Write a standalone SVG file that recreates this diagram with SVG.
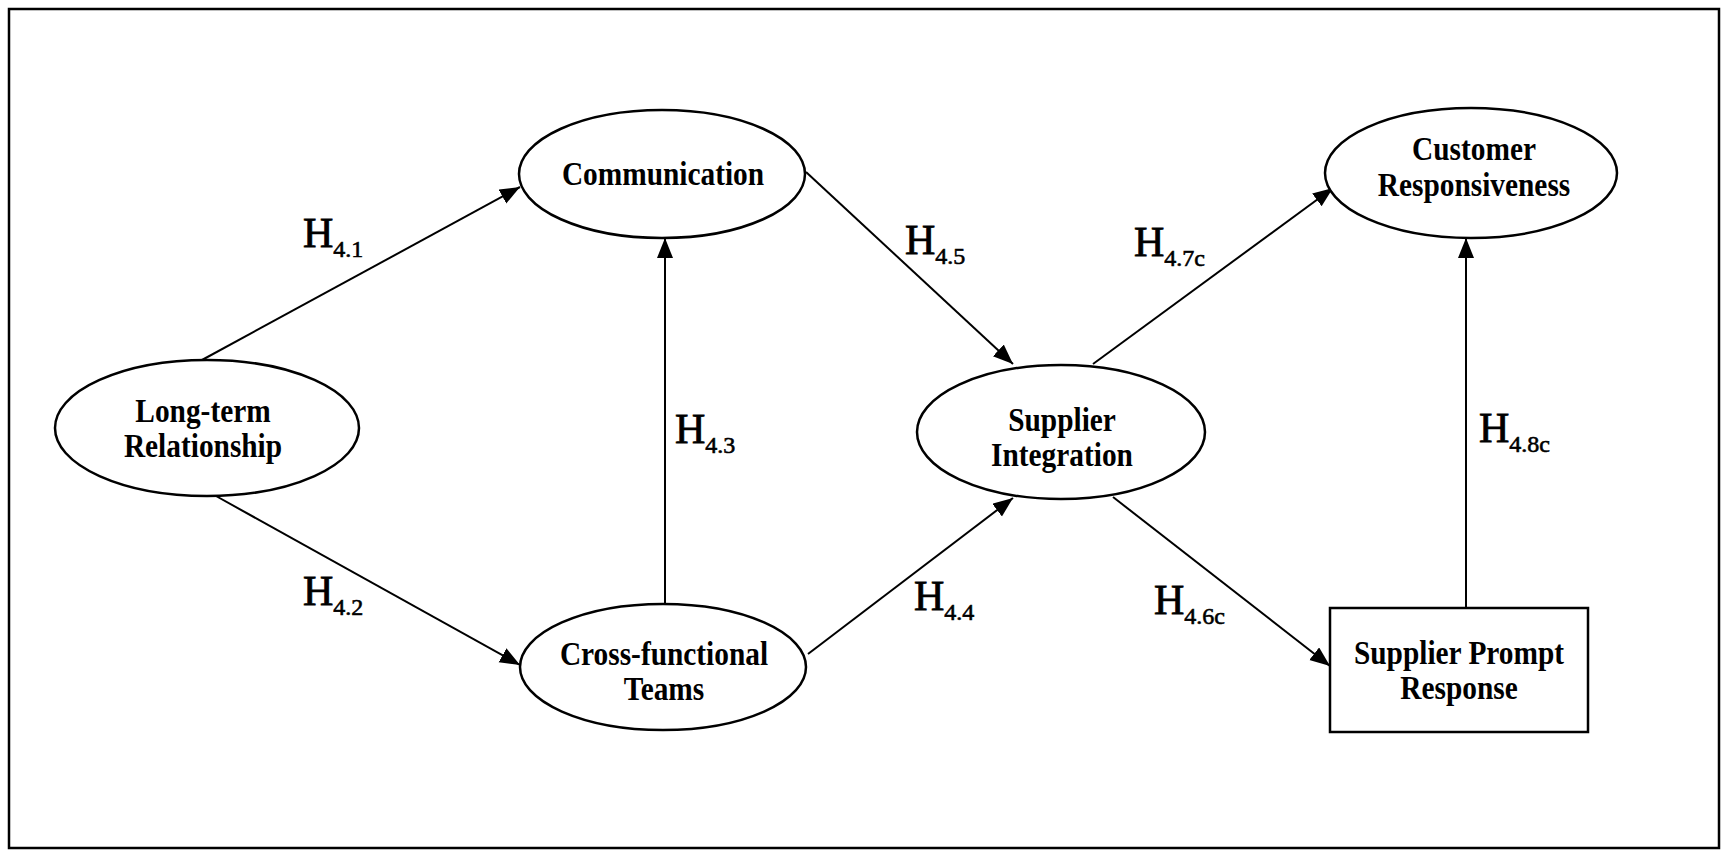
<svg xmlns="http://www.w3.org/2000/svg" width="1727" height="856" viewBox="0 0 1727 856">
<style>
.node{fill:#fff;stroke:#000;stroke-width:2.5}
.nt{font-family:"Liberation Serif","Times New Roman",serif;font-weight:bold;font-size:33px;fill:#000;text-anchor:middle}
.conn{stroke:#000;stroke-width:2;fill:none;marker-end:url(#ah)}
.lbl{font-family:"Liberation Serif","Times New Roman",serif;font-size:42px;fill:#000;stroke:#000;stroke-width:0.8}
.sub{font-size:24px;stroke-width:0.6}
</style>
<defs>
<marker id="ah" markerUnits="userSpaceOnUse" markerWidth="22" markerHeight="18" refX="20" refY="8" orient="auto">
<path d="M0,0 L20,8 L0,16 Z" fill="#000"/>
</marker>
</defs>
<rect x="0" y="0" width="1727" height="856" fill="#fff"/>
<rect x="9" y="9" width="1710" height="839" fill="none" stroke="#000" stroke-width="2.5"/>
<g id="connectors">
<line class="conn" x1="202" y1="360" x2="520" y2="187"/>
<line class="conn" x1="216" y1="496" x2="520" y2="665"/>
<line class="conn" x1="665" y1="603" x2="665" y2="238"/>
<line class="conn" x1="806" y1="172" x2="1013" y2="364"/>
<line class="conn" x1="808" y1="654" x2="1013" y2="498"/>
<line class="conn" x1="1093" y1="364" x2="1333" y2="188"/>
<line class="conn" x1="1113" y1="497" x2="1330" y2="666"/>
<line class="conn" x1="1466" y1="608" x2="1466" y2="238"/>
<text class="lbl" x="303" y="247">H<tspan class="sub" dy="10">4.1</tspan></text>
<text class="lbl" x="303" y="605">H<tspan class="sub" dy="10">4.2</tspan></text>
<text class="lbl" x="675" y="443">H<tspan class="sub" dy="10">4.3</tspan></text>
<text class="lbl" x="905" y="254">H<tspan class="sub" dy="10">4.5</tspan></text>
<text class="lbl" x="914" y="610">H<tspan class="sub" dy="10">4.4</tspan></text>
<text class="lbl" x="1134" y="256">H<tspan class="sub" dy="10">4.7c</tspan></text>
<text class="lbl" x="1154" y="614">H<tspan class="sub" dy="10">4.6c</tspan></text>
<text class="lbl" x="1479" y="442">H<tspan class="sub" dy="10">4.8c</tspan></text>
</g>
<g id="communication">
<ellipse class="node" cx="662" cy="174" rx="143" ry="64"/>
<text class="nt" transform="translate(663,185) scale(0.89,1)" x="0" y="0">Communication</text>
</g>
<g id="long-term-relationship">
<ellipse class="node" cx="207" cy="428" rx="152" ry="68"/>
<text class="nt" transform="translate(203,0) scale(0.89,1)"><tspan x="0" y="422">Long-term</tspan><tspan x="0" y="457">Relationship</tspan></text>
</g>
<g id="cross-functional-teams">
<ellipse class="node" cx="663" cy="667" rx="143" ry="63"/>
<text class="nt" transform="translate(664,0) scale(0.89,1)"><tspan x="0" y="665">Cross-functional</tspan><tspan x="0" y="700">Teams</tspan></text>
</g>
<g id="supplier-integration">
<ellipse class="node" cx="1061" cy="432" rx="144" ry="67"/>
<text class="nt" transform="translate(1062,0) scale(0.89,1)"><tspan x="0" y="431">Supplier</tspan><tspan x="0" y="466">Integration</tspan></text>
</g>
<g id="customer-responsiveness">
<ellipse class="node" cx="1471" cy="173" rx="146" ry="65"/>
<text class="nt" transform="translate(1474,0) scale(0.89,1)"><tspan x="0" y="160">Customer</tspan><tspan x="0" y="196">Responsiveness</tspan></text>
</g>
<g id="supplier-prompt-response">
<rect class="node" x="1330" y="608" width="258" height="124"/>
<text class="nt" transform="translate(1459,0) scale(0.89,1)"><tspan x="0" y="664">Supplier Prompt</tspan><tspan x="0" y="699">Response</tspan></text>
</g>
</svg>
